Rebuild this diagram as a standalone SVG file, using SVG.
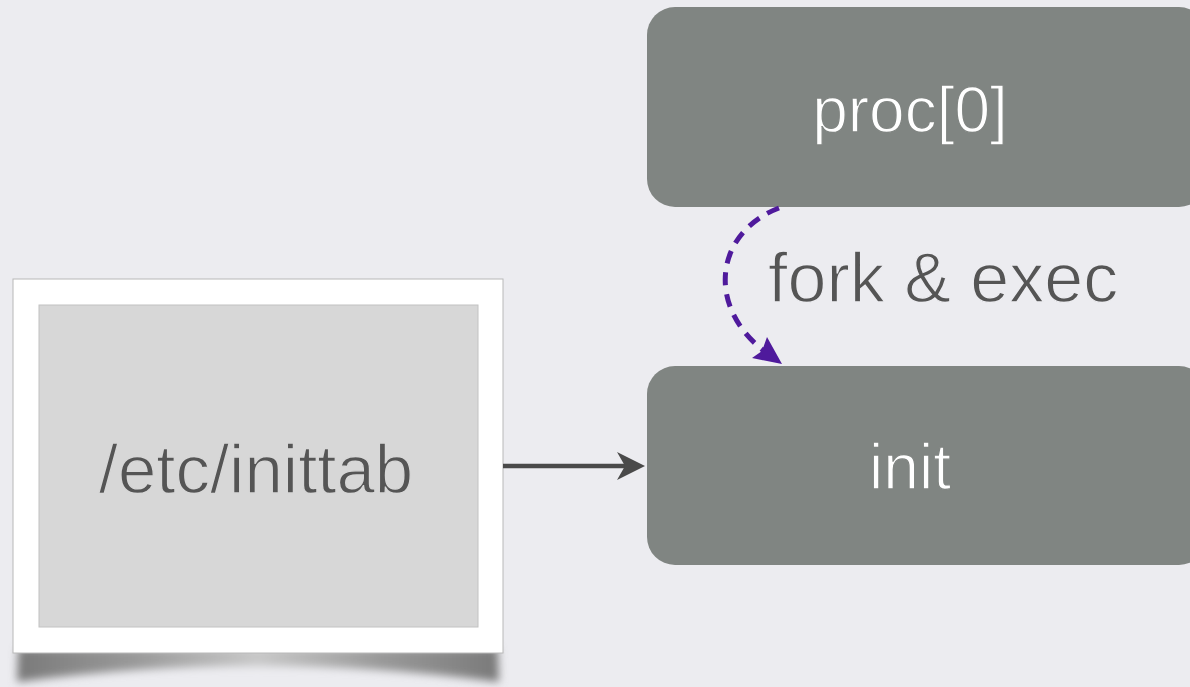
<svg xmlns="http://www.w3.org/2000/svg" width="1190" height="687" viewBox="0 0 1190 687">
  <defs>
    <style>
      .proc { fill: #808582; }
      .boxlabel { font-family: "Liberation Sans", Arial, sans-serif; font-size: 64px; fill: #ffffff; text-anchor: middle; stroke: #808582; stroke-width: 1.3px; }
      .darklabel { font-family: "Liberation Sans", Arial, sans-serif; fill: #555555; stroke-width: 1.3px; }
    </style>
    <filter id="blur" x="-10%" y="-50%" width="120%" height="200%">
      <feGaussianBlur stdDeviation="4"/>
    </filter>
    <linearGradient id="shadowGrad" x1="0" y1="0" x2="1" y2="0">
      <stop offset="0" stop-color="#7a7a7a"/>
      <stop offset="0.25" stop-color="#9a9a9a"/>
      <stop offset="0.5" stop-color="#c8c8c8"/>
      <stop offset="0.75" stop-color="#9a9a9a"/>
      <stop offset="1" stop-color="#7a7a7a"/>
    </linearGradient>
  </defs>
  <rect x="0" y="0" width="1190" height="687" fill="#ececf0"/>

  <g id="inittab">
    <path d="M 18,648 L 498,648 L 499,682 Q 258,650 17,682 Z" fill="url(#shadowGrad)" filter="url(#blur)"/>
    <rect x="13" y="279" width="490" height="374" fill="#ffffff" stroke="#b8b8b8" stroke-width="1"/>
    <rect x="39" y="305" width="439" height="322" fill="#d7d7d7" stroke="#c2c2c2" stroke-width="1"/>
    <text class="darklabel" x="256" y="493" font-size="69" text-anchor="middle" stroke="#d7d7d7">/etc/inittab</text>
  </g>

  <g id="proc0">
    <rect class="proc" x="647" y="7" width="560" height="200" rx="28" ry="28"/>
    <text class="boxlabel" x="910" y="132">proc[0]</text>
  </g>

  <g id="init">
    <rect class="proc" x="647" y="366" width="560" height="199" rx="28" ry="28"/>
    <text class="boxlabel" x="910" y="489">init</text>
  </g>

  <g id="connectors">
    <line x1="503" y1="466" x2="628" y2="466" stroke="#4a4a4a" stroke-width="4.5"/>
    <polygon points="645,466 617,452 625,466 617,480" fill="#4a4a4a"/>
    <path d="M 779,208 C 716,232 705,305 764,351" fill="none" stroke="#4f1a9c" stroke-width="5" stroke-dasharray="13,9"/>
    <polygon points="782,364 752,358 762,351 767,337" fill="#4f1a9c"/>
    <text class="darklabel" x="768" y="302" font-size="70" stroke="#ececf0">fork &amp; exec</text>
  </g>
</svg>
